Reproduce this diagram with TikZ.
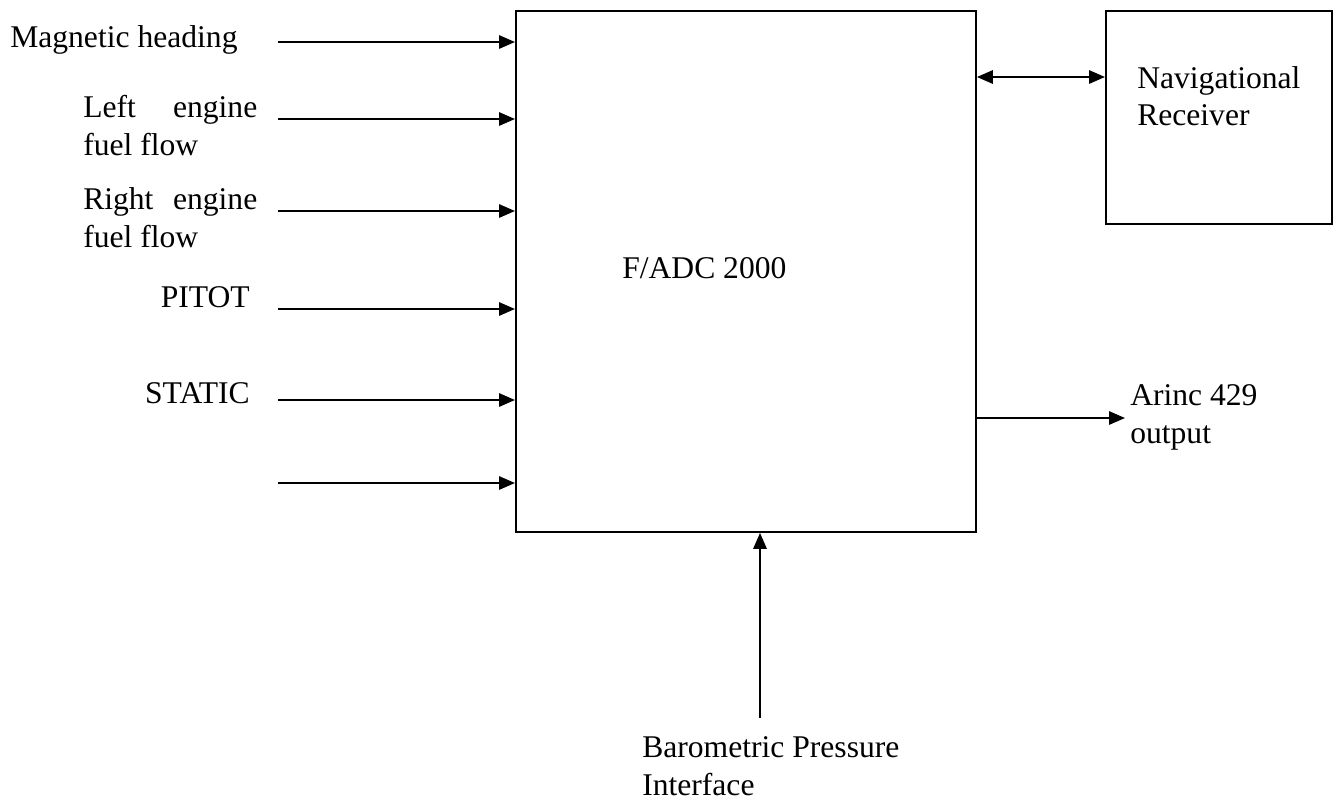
\documentclass[tikz,border=0pt]{standalone}
\usepackage{fontspec}
\setmainfont{Liberation Serif}
\usetikzlibrary{arrows.meta}
\begin{document}
\begin{tikzpicture}[x=0.75pt,y=-0.75pt,
 lbl/.style={inner sep=0pt, anchor=base west, font=\fontsize{23.7}{28.5}\selectfont},
 lblr/.style={lbl, anchor=base east},
 box/.style={draw, line width=1.4pt, inner sep=0pt, anchor=north west},
 arr/.style={line width=1.5pt, -{Triangle[length=12pt,width=10pt]}},
 darr/.style={line width=1.5pt, {Triangle[length=12pt,width=10pt]}-{Triangle[length=12pt,width=10pt]}}]
\useasboundingbox (0,0) rectangle (1333,800);
% boxes
\node[box, minimum width=345pt, minimum height=390.75pt] (main) at (515,10) {};
\node[box, minimum width=169.5pt, minimum height=159.75pt] (nav) at (1105,10) {};
% labels
\node[lbl] (mh) at (10,47) {Magnetic heading};
\node[lbl] (lf1) at (83,117) {\makebox[130.5pt][s]{Left engine}};
\node[lbl] (lf2) at (83,155) {fuel flow};
\node[lbl] (rf1) at (83,209) {\makebox[130.5pt][s]{Right engine}};
\node[lbl] (rf2) at (83,247) {fuel flow};
\node[lblr] (pitot) at (250,307) {PITOT};
\node[lblr] (static) at (250,403) {STATIC};
\node[lbl] (fadc) at (622,278) {F/ADC 2000};
\node[lbl] (nav1) at (1137,88) {Navigational};
\node[lbl] (nav2) at (1137,125) {Receiver};
\node[lbl] (ar1) at (1130,405) {Arinc 429};
\node[lbl] (ar2) at (1130,443) {output};
\node[lbl] (ba1) at (642,757) {Barometric Pressure};
\node[lbl] (ba2) at (642,795) {Interface};
% arrow start points
\coordinate (s1) at (278,42);
\coordinate (s2) at (278,119);
\coordinate (s3) at (278,211);
\coordinate (s4) at (278,309);
\coordinate (s5) at (278,400);
\coordinate (s6) at (278,483);
\coordinate (o1) at (975,418);
\coordinate (e1) at (1125,418);
\coordinate (b1) at (760,718);
\coordinate (d1) at (975,77);
% connectors
\foreach \s in {s1,s2,s3,s4,s5,s6}
  \draw[arr] (\s) -- (\s -| main.west);
\draw[darr] (d1 -| main.east) -- (d1 -| nav.west);
\draw[arr] (o1 -| main.east) -- (e1);
\draw[arr] (b1) -- (b1 |- main.south);
\end{tikzpicture}
\end{document}
